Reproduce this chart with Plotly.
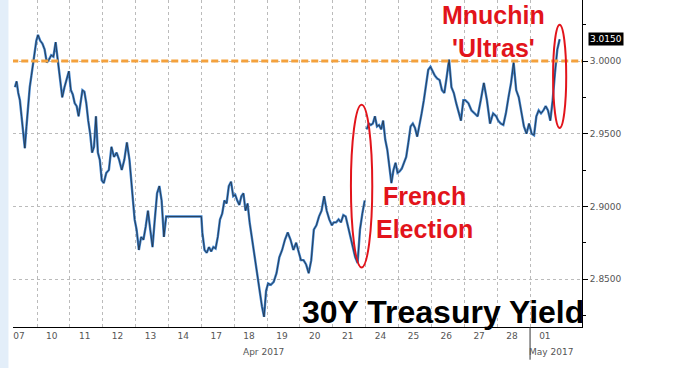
import plotly.graph_objects as go

# Trading days (April–May 2017)
day_labels = ["07", "10", "11", "12", "13", "14", "17", "18", "19", "20", "21",
              "24", "25", "26", "27", "28", "01"]

# Intraday yield readings for each day (in order)
d07 = [2.982, 2.986, 2.978, 2.973, 2.962, 2.952, 2.940, 2.955, 2.969, 2.982, 2.990, 2.998, 3.008, 3.014]
d10 = [3.018, 3.014, 3.012, 3.008, 2.999, 3.001, 3.004, 3.003, 3.013, 3.001, 2.989, 2.975, 2.982, 2.988, 2.993]
d11 = [2.980, 2.977, 2.971, 2.969, 2.962, 2.973, 2.980, 2.979, 2.971, 2.959, 2.950, 2.937, 2.941, 2.962, 2.937, 2.932, 2.918]
d12 = [2.916, 2.923, 2.925, 2.941, 2.934, 2.937, 2.932, 2.925, 2.932, 2.944, 2.932, 2.914, 2.891]
d13 = [2.884, 2.870, 2.879, 2.877, 2.886, 2.897, 2.884, 2.872, 2.891, 2.909, 2.914, 2.904, 2.879, 2.893]
d14 = [2.893, 2.893]
d17 = [2.882, 2.870, 2.868, 2.872, 2.869, 2.872, 2.871, 2.879, 2.891, 2.895, 2.904, 2.902, 2.914, 2.917, 2.907]
d18 = [2.908, 2.904, 2.901, 2.907, 2.909, 2.897, 2.902, 2.889, 2.879, 2.870, 2.861, 2.852, 2.842, 2.831, 2.824, 2.842]
d19 = [2.847, 2.846, 2.848, 2.854, 2.865, 2.870, 2.877, 2.882, 2.877, 2.870, 2.875, 2.868]
d20 = [2.863, 2.863, 2.860, 2.854, 2.863, 2.884, 2.887, 2.893, 2.897, 2.907, 2.897, 2.891, 2.887]
d21 = [2.889, 2.889, 2.891, 2.889, 2.894, 2.893, 2.886, 2.879, 2.872, 2.865, 2.861, 2.884, 2.895, 2.904]
d24 = [2.953, 2.957, 2.956, 2.957, 2.962, 2.955, 2.956, 2.953, 2.959, 2.946, 2.939, 2.927, 2.916, 2.925, 2.930, 2.923]
d25 = [2.924, 2.926, 2.930, 2.934, 2.944, 2.955, 2.957, 2.954, 2.948, 2.955, 2.964, 2.973, 2.985, 2.994, 2.996]
d26 = [2.993, 2.990, 2.988, 2.987, 2.980, 2.978, 2.989, 3.001, 2.982, 2.978, 2.971, 2.964, 2.959, 2.973]
d27 = [2.973, 2.971, 2.966, 2.964, 2.962, 2.973, 2.985, 2.973, 2.957, 2.964, 2.962]
d28 = [2.959, 2.957, 2.956, 2.964, 2.975, 2.985, 2.999, 2.980, 2.975, 2.966, 2.955, 2.950, 2.957]
d01 = [2.950, 2.949, 2.962, 2.966, 2.964, 2.966, 2.969, 2.966, 2.959, 2.973, 2.992, 3.008, 3.015]

daily = [d07, d10, d11, d12, d13, d14, d17, d18, d19, d20, d21,
         d24, d25, d26, d27, d28, d01]

y_ticks = [2.85, 2.90, 2.95, 3.00]
ref_level = 3.00
last_value = d01[-1]

# session spans within each day slot (fraction of day)
spans = {0: (0.33, 0.98), 4: (0.03, 0.93), 5: (0.0, 1.0), 16: (0.05, 0.90)}
xs, ys = [], []
for k, vals in enumerate(daily):
    a, b = spans.get(k, (0.03, 0.97))
    n = len(vals)
    for i, v in enumerate(vals):
        xs.append(k + a + (b - a) * i / (n - 1))
        ys.append(v)
    if day_labels[k] == "21":  # weekend gap
        xs.append(None)
        ys.append(None)

fig = go.Figure()
fig.add_trace(go.Scatter(x=xs, y=ys, mode="lines", connectgaps=False,
                         line=dict(color="#3F82CC", width=2.4), hoverinfo="skip"))
fig.add_trace(go.Scatter(x=xs, y=ys, mode="lines", connectgaps=False,
                         line=dict(color="#1a1a1a", width=0.8), opacity=0.8, hoverinfo="skip"))

# reference dashed line
fig.add_trace(go.Scatter(x=[-1, 18.5], y=[ref_level, ref_level], mode="lines",
                         line=dict(color="#F4A13C", width=3, dash="7px,3px"), hoverinfo="skip"))

red = "#E2141B"
shapes = [
    dict(type="circle", xref="x", yref="y", x0=10.55, x1=11.2, y0=2.858, y1=2.970,
         line=dict(color=red, width=2)),
    dict(type="circle", xref="x", yref="y", x0=16.7, x1=17.1, y0=2.954, y1=3.025,
         line=dict(color=red, width=2)),
    # month separator
    dict(type="line", xref="x", yref="paper", x0=16, x1=16, y0=0, y1=-0.10,
         line=dict(color="#333", width=1)),
    # left pale strip
    dict(type="rect", xref="paper", yref="paper", x0=-0.0228, x1=-0.008, y0=-0.2, y1=1,
         fillcolor="#E3EEF9", line=dict(width=0), layer="below"),
]

annotations = [
    dict(text="<b>30Y Treasury Yield</b>", xref="paper", yref="paper", x=0.755, y=0.045,
         showarrow=False, font=dict(family="Liberation Sans", size=32, color="black"),
         xanchor="center", yanchor="middle"),
    dict(text="<b>Mnuchin<br>'Ultras'</b>", x=14.9, y=3.020, xref="x", yref="y",
         showarrow=False, font=dict(family="Liberation Sans", size=25, color=red),
         xanchor="center", yanchor="middle"),
    dict(text="<b>French<br>Election</b>", x=12.8, y=2.896, xref="x", yref="y",
         showarrow=False, font=dict(family="Liberation Sans", size=25, color=red),
         xanchor="center", yanchor="middle"),
    dict(text="3.0150", x=1.0, y=last_value, xref="paper", yref="y", xanchor="left",
         xshift=6, showarrow=False, bgcolor="black", borderpad=1,
         font=dict(family="DejaVu Sans", size=9, color="white")),
    dict(text="Apr 2017", x=7.9, y=-0.055, xref="x", yref="paper", showarrow=False,
         font=dict(family="DejaVu Sans", size=9, color="#555"), yanchor="top"),
    dict(text="May 2017", x=16.65, y=-0.055, xref="x", yref="paper", showarrow=False,
         font=dict(family="DejaVu Sans", size=9, color="#555"), yanchor="top"),
]

fig.update_layout(
    width=677, height=368,
    margin=dict(l=13, r=95, t=0, b=41),
    paper_bgcolor="white", plot_bgcolor="white",
    showlegend=False,
    shapes=shapes, annotations=annotations,
    xaxis=dict(range=[0.27, 17.58], tickmode="array",
               tickvals=[k + 0.45 for k in range(len(day_labels))], ticktext=day_labels,
               showgrid=False, ticks="", showline=True, linecolor="black", linewidth=1,
               tickfont=dict(family="DejaVu Sans", size=9, color="#555"),
               minor=dict(tickmode="array", tickvals=list(range(1, 17)), showgrid=True,
                          gridcolor="#bbbbbb", griddash="dot", gridwidth=1),
               zeroline=False, fixedrange=True),
    yaxis=dict(side="right", range=[2.817, 3.042], tickvals=y_ticks,
               ticktext=[f"{v:.4f}" for v in y_ticks], ticks="outside", ticklen=5,
               tickcolor="black", showline=True, linecolor="black", linewidth=1,
               showgrid=True, gridcolor="#bbbbbb", griddash="dot",
               tickfont=dict(family="DejaVu Sans", size=9, color="#555"),
               minor=dict(tickvals=[2.825, 2.875, 2.925, 2.975, 3.025], ticks="outside",
                          ticklen=3, tickcolor="black", showgrid=False),
               zeroline=False, fixedrange=True),
)

fig.write_html("out.html", config={"displayModeBar": False},
               post_script="document.body.style.margin='0px';document.body.style.overflow='hidden';")
